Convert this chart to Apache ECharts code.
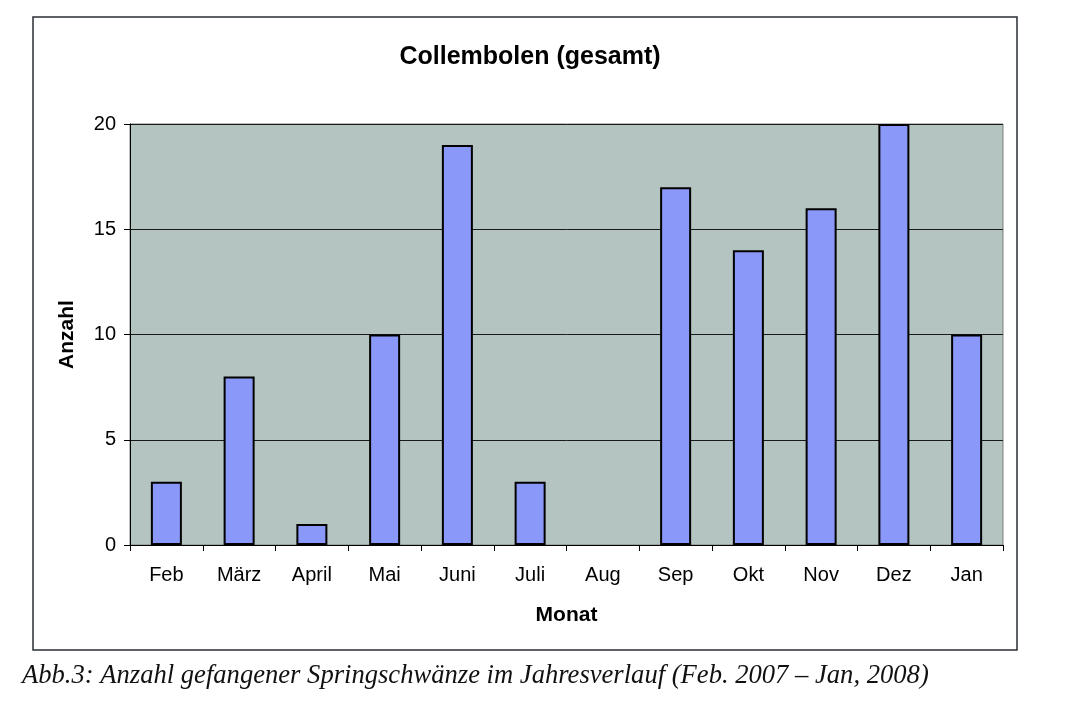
<!DOCTYPE html>
<html>
<head>
<meta charset="utf-8">
<script src="https://cdn.jsdelivr.net/npm/echarts@6/dist/echarts.min.js"></script>
<style>
  html, body { margin: 0; padding: 0; background: #fff; }
  #chart { width: 1075px; height: 705px; }
</style>
</head>
<body>
<div id="chart"></div>
<script>
// Monate und Anzahl
var months = ['Feb', 'März', 'April', 'Mai', 'Juni', 'Juli', 'Aug', 'Sep', 'Okt', 'Nov', 'Dez', 'Jan'];
var counts = [3, 8, 1, 10, 19, 3, 0, 17, 14, 16, 20, 10];
var yTicks = [0, 5, 10, 15, 20];

// Balken mit Wert 0 ohne Rand zeichnen (wie im Original bei Aug)
var barData = counts.map(function (v) {
    return v === 0 ? { value: v, itemStyle: { borderWidth: 0 } } : v;
});

var myChart = echarts.init(document.getElementById('chart'));
myChart.setOption({
    backgroundColor: '#ffffff',
    animation: false,
    title: {
        text: 'Collembolen (gesamt)',
        left: 525,
        top: 40,
        textAlign: 'center',
        textStyle: { fontFamily: 'Liberation Sans', fontWeight: 'bold', fontSize: 25, color: '#000' }
    },
    grid: {
        left: 130, right: 72, top: 124, bottom: 160,
        show: true,
        backgroundColor: '#b4c4c0',
        borderColor: '#7a7f7e',
        borderWidth: 1
    },
    graphic: [{
        type: 'rect',
        shape: { x: 33, y: 17, width: 984, height: 633 },
        style: { fill: 'none', stroke: '#2a2e33', lineWidth: 1.5 },
        z: -1
    }, {
        type: 'text',
        left: 22,
        top: 662,
        style: {
            text: 'Abb.3: Anzahl gefangener Springschwänze im Jahresverlauf (Feb. 2007 – Jan, 2008)',
            font: 'italic 26.6px "Liberation Serif"',
            fill: '#111'
        }
    }],
    xAxis: {
        type: 'category',
        data: months,
        name: 'Monat',
        nameLocation: 'middle',
        nameGap: 60,
        nameTextStyle: { fontFamily: 'Liberation Sans', fontWeight: 'bold', fontSize: 21, color: '#000' },
        axisLine: { lineStyle: { color: '#000', width: 1 } },
        axisTick: { show: true, length: 6, lineStyle: { color: '#000' } },
        axisLabel: { margin: 20, fontFamily: 'Liberation Sans', fontSize: 20, color: '#000' }
    },
    yAxis: {
        type: 'value',
        min: yTicks[0],
        max: yTicks[yTicks.length - 1],
        interval: 5,
        name: 'Anzahl',
        nameLocation: 'middle',
        nameGap: 52,
        nameTextStyle: { fontFamily: 'Liberation Sans', fontWeight: 'bold', fontSize: 21, color: '#000' },
        axisLine: { show: true, lineStyle: { color: '#000', width: 1 } },
        axisTick: { show: true, inside: false, length: 6, lineStyle: { color: '#000' } },
        axisLabel: { margin: 14, fontFamily: 'Liberation Sans', fontSize: 20, color: '#000' },
        splitLine: { show: true, lineStyle: { color: '#1a1a1a', width: 1 } }
    },
    series: [{
        type: 'bar',
        data: barData,
        barWidth: 31,
        itemStyle: { color: '#8a98fa', borderColor: '#000', borderWidth: 2 }
    }]
});
</script>
</body>
</html>
